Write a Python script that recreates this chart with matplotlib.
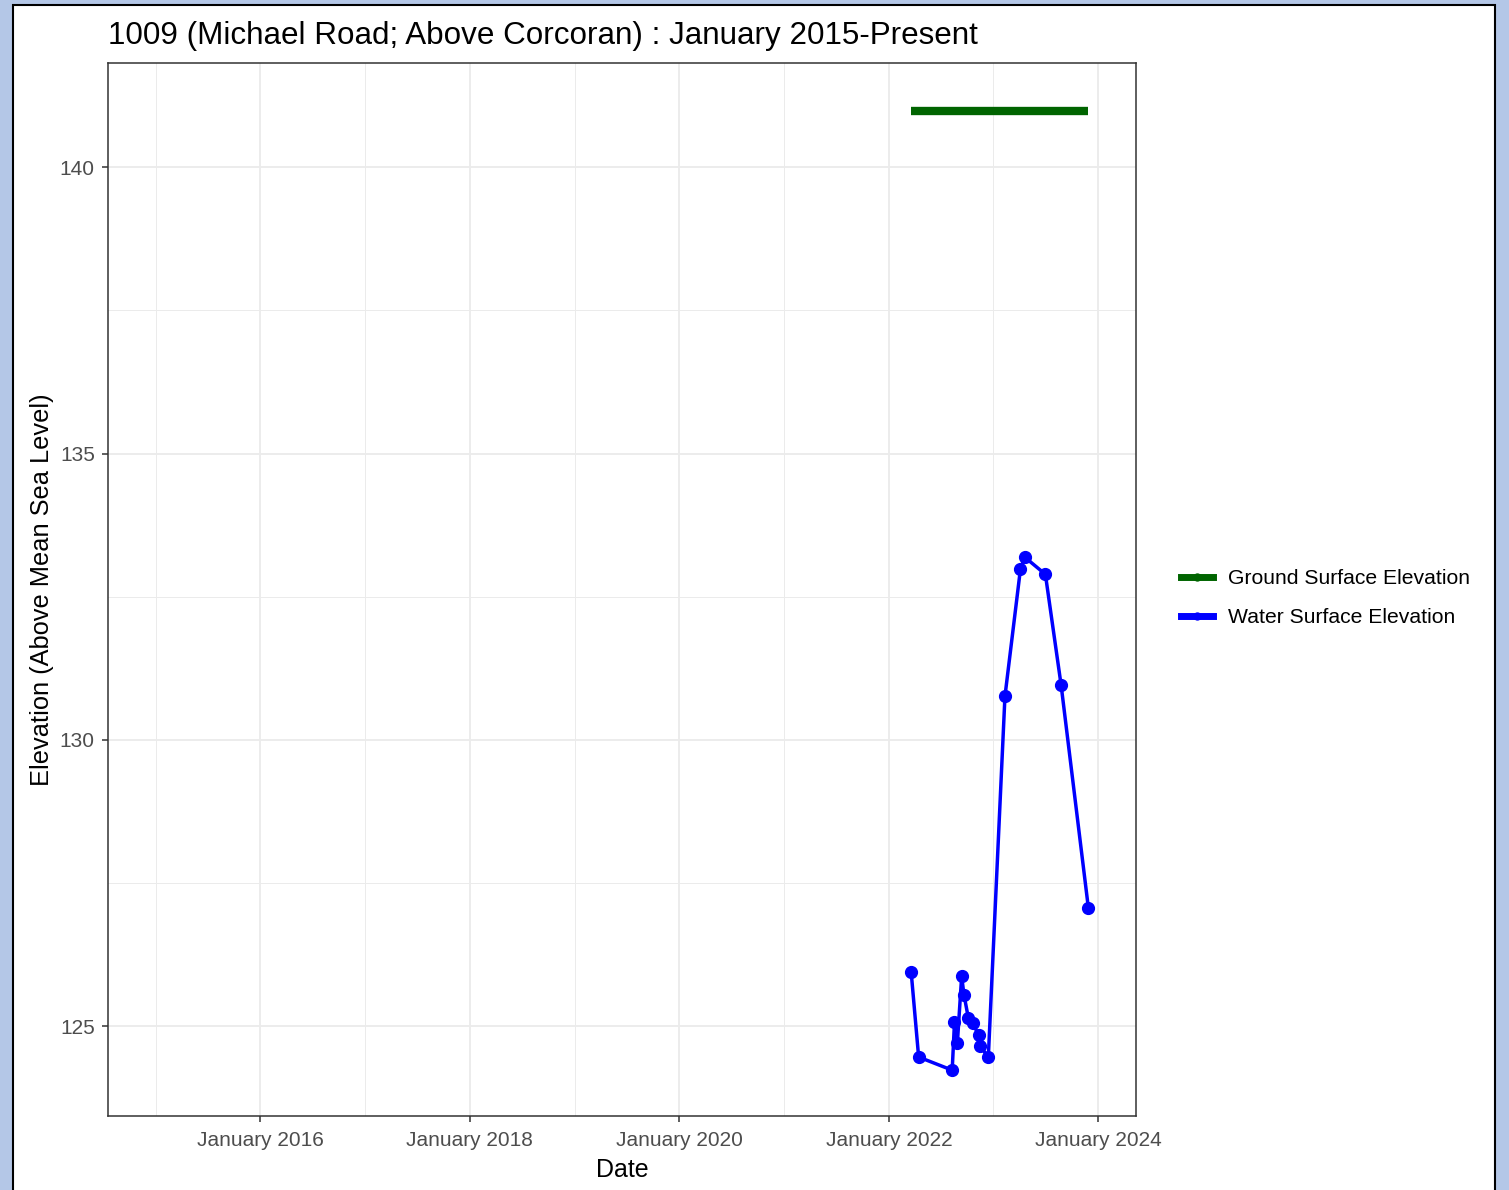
import matplotlib
matplotlib.use('Agg')
import matplotlib.pyplot as plt
import matplotlib.dates as mdates
from matplotlib.patches import Rectangle
from matplotlib.lines import Line2D
from datetime import datetime

plt.rcParams['font.family'] = ['Liberation Sans', 'DejaVu Sans']

# readings (dates and elevations)
dates = ['2022-03-20', '2022-04-15', '2022-08-10', '2022-08-18', '2022-08-28',
         '2022-09-12', '2022-09-20', '2022-10-05', '2022-10-20', '2022-11-10',
         '2022-11-15', '2022-12-14', '2023-02-10', '2023-04-05', '2023-04-20',
         '2023-07-01', '2023-08-25', '2023-11-28']
water = [125.94, 124.46, 124.23, 125.07, 124.70, 125.87, 125.55, 125.15, 125.05,
         124.85, 124.65, 124.46, 130.76, 132.98, 133.19, 132.89, 130.95, 127.06]
ground = [140.98] * len(dates)

x = [datetime.strptime(d, '%Y-%m-%d') for d in dates]

fig = plt.figure(figsize=(15.09, 11.90), dpi=100)
fig.patch.set_facecolor('#B4C7E7')
fig.patches.append(Rectangle((13 / 1509, -0.01), (1495 - 13) / 1509, 1 - 5 / 1190 + 0.01,
                             transform=fig.transFigure, facecolor='white',
                             edgecolor='black', linewidth=1.5, zorder=0))

ax = fig.add_axes([108 / 1509, 1 - 1116 / 1190, 1028 / 1509, 1053 / 1190])
ax.set_zorder(2)
ax.set_facecolor('white')

ax.plot(x, ground, color='#006400', linewidth=6, solid_capstyle='butt', zorder=3)
ax.plot(x, water, color='#0000FF', linewidth=2.5, marker='o', markersize=8.5, zorder=4)

ax.set_xlim(datetime(2014, 7, 19), datetime(2024, 5, 12))
ax.set_ylim(123.43, 141.82)

ax.xaxis.set_major_locator(mdates.YearLocator(2, month=1, day=1))
ax.xaxis.set_minor_locator(mdates.YearLocator(1, month=1, day=1))
ax.xaxis.set_major_formatter(mdates.DateFormatter('January %Y'))
ax.set_yticks([125, 130, 135, 140])
ax.set_yticks([127.5, 132.5, 137.5], minor=True)

ax.grid(which='major', color='#EBEBEB', linewidth=1.3)
ax.grid(which='minor', color='#EBEBEB', linewidth=0.7)
ax.set_axisbelow(True)
ax.tick_params(which='major', length=4.5, width=1.1, color='#333333',
               labelcolor='#4D4D4D', labelsize=15)
ax.tick_params(axis='x', pad=6)
ax.tick_params(axis='y', pad=5)
ax.tick_params(which='minor', length=0)
for s in ax.spines.values():
    s.set_color('#333333')
    s.set_linewidth(1.1)

ax.set_xlabel('Date', fontsize=18, labelpad=6)
ax.set_ylabel('Elevation (Above Mean Sea Level)', fontsize=18.3, labelpad=4)
ax.set_title('1009 (Michael Road; Above Corcoran) : January 2015-Present',
             fontsize=22.6, loc='left', pad=14)

handles = [Line2D([], [], color='#006400', linewidth=5, marker='o', markersize=5),
           Line2D([], [], color='#0000FF', linewidth=5, marker='o', markersize=5)]
leg = fig.legend(handles, ['Ground Surface Elevation', 'Water Surface Elevation'],
                 loc='center left', bbox_to_anchor=(1162 / 1509, 1 - 598 / 1190),
                 frameon=False, fontsize=15.2, handlelength=1.5, labelspacing=0.95,
                 handletextpad=0.75)

fig.savefig('out.png', dpi=100, facecolor=fig.get_facecolor())
